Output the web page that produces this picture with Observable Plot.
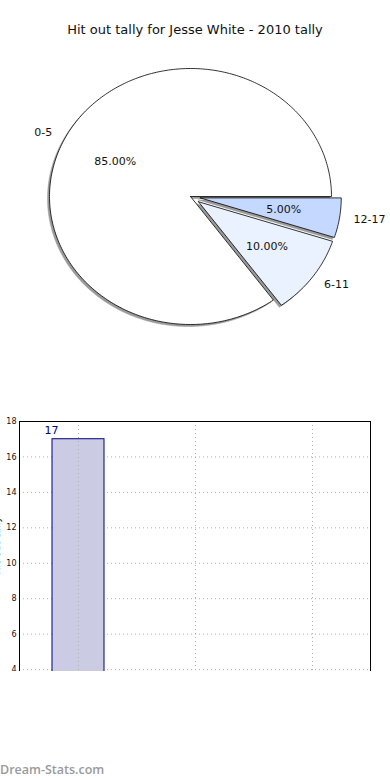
<!DOCTYPE html>
<html>
<head>
<meta charset="utf-8">
<script src="https://cdn.jsdelivr.net/npm/d3@7"></script>
<script src="https://cdn.jsdelivr.net/npm/@observablehq/plot@0.6"></script>
<style>
  html, body { margin: 0; padding: 0; background: white; }
  #page { position: relative; width: 390px; height: 780px; overflow: hidden; background: white; font-family: "DejaVu Sans", sans-serif; }
  #title { position: absolute; top: 22px; left: 0; width: 390px; text-align: center; font-size: 13px; color: #111; }
  #pie { position: absolute; top: 0; left: 0; }
  #bar { position: absolute; top: 400px; left: 0; width: 390px; height: 271px; overflow: hidden; }
  #mark { position: absolute; top: 761px; left: 0; font-family: "Open Sans", sans-serif; font-size: 12.5px; font-weight: 600; color: #9a9a9a; }
</style>
</head>
<body>
<div id="page">
  <div id="pie"></div>
  <div id="title">Hit out tally for Jesse White - 2010 tally</div>
  <div id="bar"></div>
  <div id="mark">Dream-Stats.com</div>
</div>
<script>
// ---- data ----
const categories = ["0-5", "6-11", "12-17"];
const tally = [17, 2, 1];
const explode = [0, 0.07, 0.07];
const pieColors = ["#ffffff", "#eaf1ff", "#c5d8ff"];
const yTicks = [4, 6, 8, 10, 12, 14, 16, 18];
const yLabel = "Hit out tally";
const barFill = "#cbcce4";
const barStroke = "#000080";

// ---- pie geometry derived from the data ----
const total = d3.sum(tally);
const wedgePts = [];
const catLabels = [];
const pctLabels = [];
let start = 0;
categories.forEach((cat, i) => {
  const frac = tally[i] / total;
  const a0 = start * 2 * Math.PI;
  const a1 = (start + frac) * 2 * Math.PI;
  const mid = (a0 + a1) / 2;
  const cx = explode[i] * Math.cos(mid);
  const cy = explode[i] * Math.sin(mid);
  wedgePts.push({cat, x: cx, y: cy, color: pieColors[i]});
  const n = Math.max(4, Math.ceil((a1 - a0) / (Math.PI / 180)));
  for (let k = 0; k <= n; k++) {
    const a = a0 + (a1 - a0) * k / n;
    wedgePts.push({cat, x: cx + Math.cos(a), y: cy + Math.sin(a), color: pieColors[i]});
  }
  wedgePts.push({cat, x: cx, y: cy, color: pieColors[i]});
  catLabels.push({text: cat, x: cx + 1.1 * Math.cos(mid), y: cy + 1.1 * Math.sin(mid)});
  pctLabels.push({text: (frac * 100).toFixed(2) + "%", x: cx + 0.6 * Math.cos(mid), y: cy + 0.6 * Math.sin(mid)});
  start += frac;
});

const pie = Plot.plot({
  width: 390,
  height: 400,
  x: {domain: [-1, 1], range: [49, 331], axis: null},
  y: {domain: [-1, 1], range: [324, 68], axis: null},
  color: {type: "identity"},
  style: {fontFamily: "DejaVu Sans", background: "transparent"},
  marks: [
    Plot.line(wedgePts, {x: "x", y: "y", z: "cat", fill: "#9a9a9a", stroke: "#9a9a9a", strokeWidth: 0.5, dx: -2, dy: 2, curve: "linear"}),
    Plot.line(wedgePts, {x: "x", y: "y", z: "cat", fill: d => d.color, stroke: "black", strokeWidth: 0.8, strokeLinejoin: "miter", curve: "linear"}),
    Plot.text(catLabels.filter(d => d.x < 0), {x: "x", y: "y", text: "text", textAnchor: "end", fontSize: 11, fill: "#111"}),
    Plot.text(catLabels.filter(d => d.x >= 0), {x: "x", y: "y", text: "text", textAnchor: "start", fontSize: 11, fill: "#111"}),
    Plot.text(pctLabels, {x: "x", y: "y", text: "text", textAnchor: "middle", fontSize: 11, fill: "#111"})
  ]
});
document.getElementById("pie").appendChild(pie);

const barData = categories.map((c, i) => ({cat: c, v: tally[i]}));
const bar = Plot.plot({
  width: 390,
  height: 360,
  marginLeft: 19,
  marginRight: 20,
  marginTop: 21,
  marginBottom: 20,
  x: {domain: categories, paddingInner: 0.556, paddingOuter: 0.278, axis: null},
  y: {domain: [0, 18], axis: null},
  style: {fontFamily: "DejaVu Sans", background: "transparent"},
  marks: [
    Plot.gridY(yTicks, {stroke: "#b0b0b0", strokeOpacity: 1, strokeDasharray: "1,3"}),
    Plot.gridX(categories, {stroke: "#b0b0b0", strokeOpacity: 1, strokeDasharray: "1,3"}),
    Plot.barY(barData, {x: "cat", y: "v", fill: barFill, stroke: barStroke, strokeWidth: 1}),
    Plot.gridX(categories, {stroke: "#b0b0b0", strokeOpacity: 1, strokeDasharray: "1,3"}),
    Plot.text(barData.filter(d => d.v >= yTicks[0]), {x: "cat", y: "v", text: d => String(d.v), dx: -27, dy: -9, fontSize: 11, fill: barStroke}),
    Plot.axisY(yTicks, {tickSize: 0, tickPadding: 3, fontSize: 8, fill: "#111", label: null}),
    Plot.text([yLabel], {frameAnchor: "left", dx: -22.5, dy: -6, rotate: -90, fontSize: 10, fill: "#111"}),
    Plot.frame({stroke: "black", strokeWidth: 1})
  ]
});
document.getElementById("bar").appendChild(bar);
</script>
</body>
</html>
